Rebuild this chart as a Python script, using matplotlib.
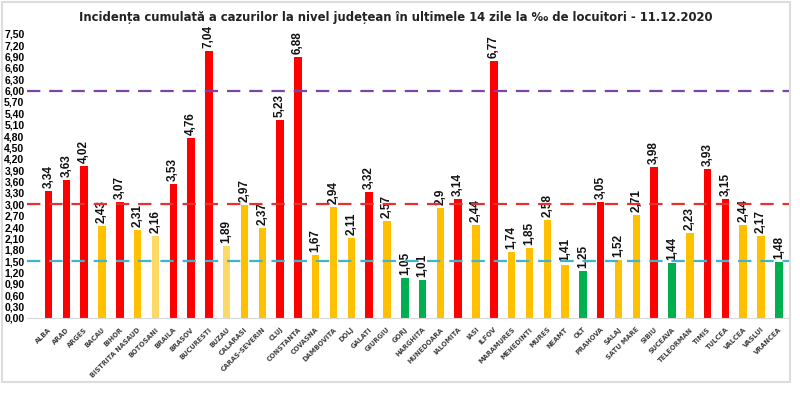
import matplotlib
matplotlib.use('Agg')
import matplotlib.pyplot as plt
from matplotlib.patches import Rectangle

# county incidence per 1000 inhabitants, 11.12.2020
judete = ['ALBA', 'ARAD', 'ARGES', 'BACAU', 'BIHOR', 'BISTRITA NASAUD', 'BOTOSANI',
          'BRAILA', 'BRASOV', 'BUCURESTI', 'BUZAU', 'CALARASI', 'CARAS-SEVERIN', 'CLUJ',
          'CONSTANTA', 'COVASNA', 'DAMBOVITA', 'DOLJ', 'GALATI', 'GIURGIU', 'GORJ',
          'HARGHITA', 'HUNEDOARA', 'IALOMITA', 'IASI', 'ILFOV', 'MARAMURES', 'MEHEDINTI',
          'MURES', 'NEAMT', 'OLT', 'PRAHOVA', 'SALAJ', 'SATU MARE', 'SIBIU', 'SUCEAVA',
          'TELEORMAN', 'TIMIS', 'TULCEA', 'VALCEA', 'VASLUI', 'VRANCEA']
incidenta = [3.34, 3.63, 4.02, 2.43, 3.07, 2.31, 2.16, 3.53, 4.76, 7.04, 1.89, 2.97,
             2.37, 5.23, 6.88, 1.67, 2.94, 2.11, 3.32, 2.57, 1.05, 1.01, 2.9, 3.14,
             2.44, 6.77, 1.74, 1.85, 2.58, 1.41, 1.25, 3.05, 1.52, 2.71, 3.98, 1.44,
             2.23, 3.93, 3.15, 2.44, 2.17, 1.48]
# colour class per county as in the source (r = red, y = yellow, l = light yellow, g = green)
clasa = ['r', 'r', 'r', 'y', 'r', 'y', 'l', 'r', 'r', 'r', 'l', 'y', 'y', 'r', 'r', 'y',
         'y', 'y', 'r', 'y', 'g', 'g', 'y', 'r', 'y', 'r', 'y', 'y', 'y', 'y', 'g', 'r',
         'y', 'y', 'r', 'g', 'y', 'r', 'r', 'y', 'y', 'g']
praguri = [6.0, 3.0, 1.5]
culori_praguri = ['#7A45A8', '#E8312F', '#3FB4CF']

culori = {'r': '#FF0000', 'y': '#FFC000', 'l': '#FFD966', 'g': '#00B050'}

fig = plt.figure(figsize=(8, 3.94), dpi=100)
ax = fig.add_axes([0.034, 0.193, 0.954, 0.731])

x = range(len(judete))
ax.bar(x, incidenta, width=0.42, color=[culori[c] for c in clasa], zorder=2)

for xi, v in zip(x, incidenta):
    ax.text(xi, v + 0.08, f'{v:g}'.replace('.', ','), rotation=90, ha='center',
            va='bottom', fontsize=8.5, fontweight='bold', color='#111111',
            family='Liberation Sans')

for p, c in zip(praguri, culori_praguri):
    ax.axhline(p, color=c, linestyle=(0, (6, 4)), linewidth=1.6, zorder=3)

ax.set_xlim(-1.2, len(judete) - 0.35)
ax.set_ylim(0, 7.6)
yt = [i * 0.3 for i in range(26)]
ax.set_yticks(yt)
ax.set_yticklabels([f'{t:.2f}'.replace('.', ',') for t in yt], fontsize=7.5,
                   fontweight='bold', family='Liberation Sans')
ax.set_xticks(list(x))
ax.set_xticklabels(judete, rotation=45, ha='right', rotation_mode='anchor',
                   fontsize=4.8, fontweight='bold', color='#404040')
ax.tick_params(length=0, pad=2)
ax.tick_params(axis='x', pad=6)
for s in ['top', 'right', 'left']:
    ax.spines[s].set_visible(False)
ax.spines['bottom'].set_color('#D9D9D9')

fig.text(0.495, 0.955, 'Incidența cumulată a cazurilor la nivel județean în ultimele 14 zile '
         'la ‰ de locuitori - 11.12.2020', ha='center', va='center', fontsize=8.4,
         fontweight='bold', color='#222222')

fig.patches.append(Rectangle((0.003, 0.03), 0.985, 0.965, transform=fig.transFigure,
                             fill=False, edgecolor='#DDDDDD', linewidth=1.5))

fig.savefig('out.png', dpi=100)
